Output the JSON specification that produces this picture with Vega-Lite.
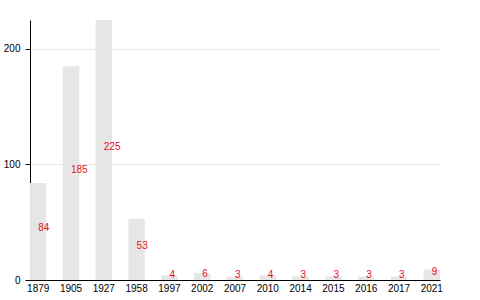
{
  "$schema": "https://vega.github.io/schema/vega-lite/v6.json",
  "autosize": "none",
  "width": 410,
  "height": 260,
  "padding": {"left": 30, "top": 20, "right": 40, "bottom": 20},
  "background": "white",
  "config": {"view": {"stroke": null}, "font": "Liberation Sans"},
  "data": {"values": [
    {"year": "1879", "value": 84},
    {"year": "1905", "value": 185},
    {"year": "1927", "value": 225},
    {"year": "1958", "value": 53},
    {"year": "1997", "value": 4},
    {"year": "2002", "value": 6},
    {"year": "2007", "value": 3},
    {"year": "2010", "value": 4},
    {"year": "2014", "value": 3},
    {"year": "2015", "value": 3},
    {"year": "2016", "value": 3},
    {"year": "2017", "value": 3},
    {"year": "2021", "value": 9}
  ]},
  "encoding": {
    "x": {"field": "year", "type": "ordinal",
      "scale": {"paddingInner": 0.5, "paddingOuter": 0},
      "axis": {"title": null, "labelAngle": 0, "ticks": false, "labelPadding": 3, "labelFontSize": 10, "labelColor": "black", "domainColor": "black", "labelFont": "Liberation Sans"}}
  },
  "layer": [
    {"mark": {"type": "bar", "color": "#e6e6e6"},
     "encoding": {"y": {"field": "value", "type": "quantitative",
       "scale": {"domain": [0, 225], "nice": false},
       "axis": {"title": null, "values": [0, 100, 200], "tickSize": 5, "tickColor": "black", "domainColor": "black", "gridColor": "#e8e8e8", "labelColor": "black", "labelFontSize": 10, "labelPadding": 5, "labelFont": "Liberation Sans"}}}},
    {"mark": {"type": "text", "color": "#e8101c", "align": "left", "baseline": "alphabetic", "fontSize": 10, "font": "Liberation Sans"},
     "transform": [{"calculate": "datum.value / 2", "as": "half"}],
     "encoding": {
       "y": {"field": "half", "type": "quantitative"},
       "text": {"field": "value", "type": "quantitative"}}}
  ]
}
